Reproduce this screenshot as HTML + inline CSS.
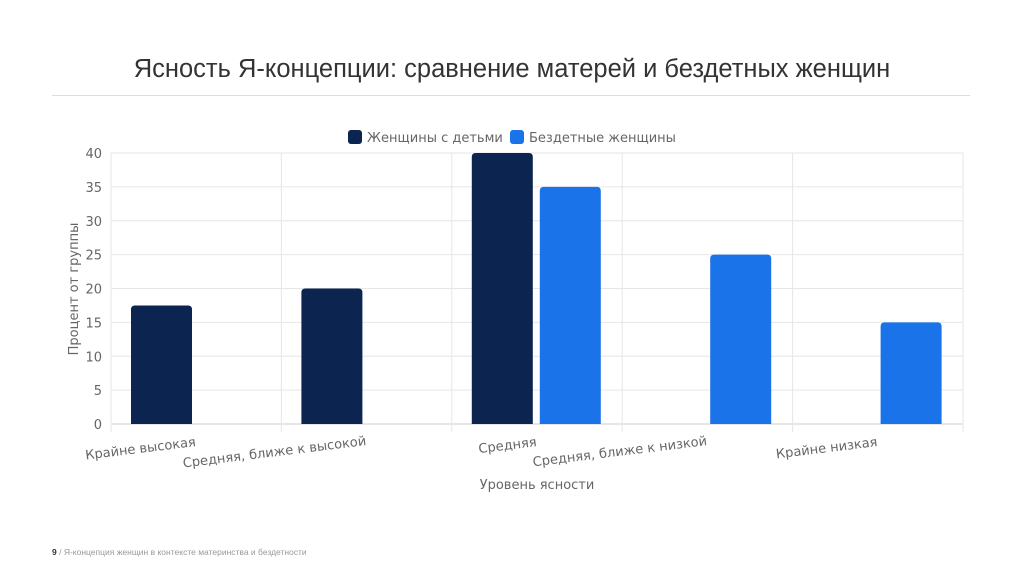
<!DOCTYPE html>
<html><head><meta charset="utf-8"><style>
body{margin:0;width:1024px;height:574px;background:#fff;font-family:"Liberation Sans","DejaVu Sans",sans-serif;overflow:hidden;position:relative}
#title{position:absolute;top:55px;left:0;width:1024px;text-align:center;font-size:25.5px;color:#333}
#rule{position:absolute;top:95px;left:52px;width:918px;height:1px;background:#ddd}
#footer{position:absolute;top:547px;left:52px;font-size:8.5px;color:#999}
#footer b{color:#333}
</style></head><body>
<div id="title">Ясность Я-концепции: сравнение матерей и бездетных женщин</div>
<div id="rule"></div>
<svg id="chart" width="1024" height="574" style="position:absolute;left:0;top:0" font-family="DejaVu Sans, Liberation Sans, sans-serif"></svg>
<div id="footer"><b>9</b> / Я-концепция женщин в контексте материнства и бездетности</div>
<script>
const categories=["Крайне высокая","Средняя, ближе к высокой","Средняя","Средняя, ближе к низкой","Крайне низкая"];
const mothers=[17.5,20,40,0,0];
const childless=[0,0,35,25,15];
const yTicks=[0,5,10,15,20,25,30,35,40];
const seriesNames=["Женщины с детьми","Бездетные женщины"];
const colors=["#0b2450","#1a73e8"];
const NS="http://www.w3.org/2000/svg";
const svg=document.getElementById('chart');
const L=111,R=963,T=153,B=424,ymax=40;
const bw=(R-L)/categories.length;
const y=v=>B-(v/ymax)*(B-T);
function el(t,a,p){const e=document.createElementNS(NS,t);for(const k in a)e.setAttribute(k,a[k]);(p||svg).appendChild(e);return e;}
yTicks.forEach(t=>{
  const g=el('line',{x1:L,x2:R,y1:y(t),y2:y(t),stroke:t===0?'#ccc':'#e6e6e6'});
  
  
  const tx=el('text',{x:L-9,y:y(t)+5,'text-anchor':'end','font-size':13,fill:'#666'});
  tx.textContent=t;
  
  
});
for(let i=0;i<=categories.length;i++){
  const v=el('line',{x1:L+i*bw,x2:L+i*bw,y1:T,y2:B+8,stroke:'#e6e6e6'});
  
  
}
function bar(x,v,c,name){
  if(v<=0)return;
  const p=el('path',{d:`M${x},${B}V${y(v)+4}q0,-4 4,-4h${61-8}q4,0 4,4V${B}Z`,fill:c});
  
  
}
categories.forEach((c,i)=>{
  const x0=L+i*bw;
  bar(x0+20,mothers[i],colors[0],'bar-mothers-'+i);
  bar(x0+88,childless[i],colors[1],'bar-childless-'+i);
  const cx=x0+bw/2;const ly=i%2===0?446:445;
  const t=el('text',{x:cx,y:ly,'text-anchor':'end','font-size':13,fill:'#666',transform:`rotate(-7 ${cx} ${ly})`});
  t.textContent=c;
  
  
});
const xt=el('text',{x:537,y:489,'text-anchor':'middle','font-size':13,fill:'#666'});xt.textContent='Уровень ясности';


const yt=el('text',{x:0,y:0,'text-anchor':'middle','font-size':13,fill:'#666',transform:'translate(78 289) rotate(-90)'});yt.textContent='Процент от группы';


const lx=[348,510];
seriesNames.forEach((n,i)=>{
  const r=el('rect',{x:lx[i],y:130,width:14,height:14,rx:3,fill:colors[i]});
  
  
  const t=el('text',{x:lx[i]+19,y:142,'font-size':13,fill:'#666'});t.textContent=n;
  
  
});
</script>
</body></html>
